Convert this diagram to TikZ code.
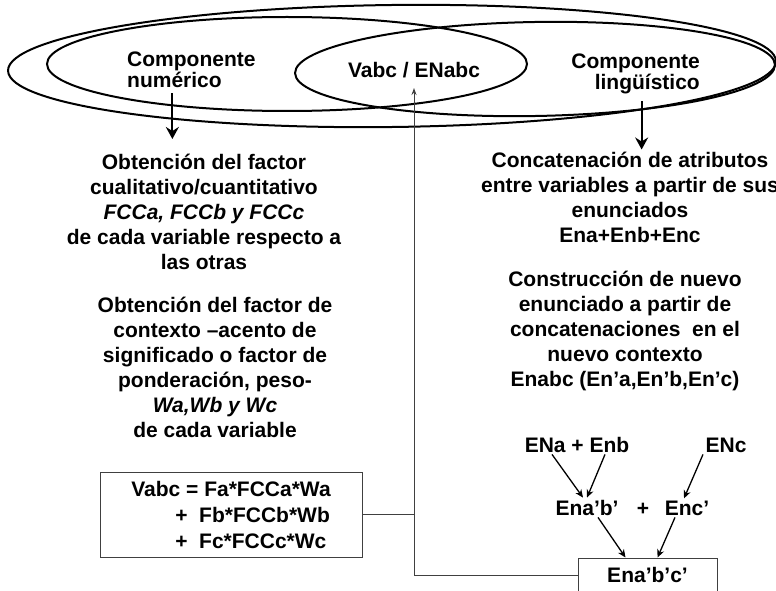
\documentclass[tikz,border=0pt]{standalone}
\usepackage{fontspec}
\setmainfont{Liberation Sans}
\usetikzlibrary{arrows.meta,calc}
\begin{document}
\begin{tikzpicture}[x=1pt,y=-1pt,
  every node/.style={font=\bfseries\fontsize{21}{25}\selectfont, inner sep=2pt},
  txt/.style={align=center},
  ell/.style={line width=2pt},
  bigarrow/.style={line width=2.2pt,-{Stealth[length=12pt,width=13pt,inset=4pt]}},
  smallarrow/.style={line width=1.3pt,-{Stealth[length=8pt,width=7pt]}},
  conn/.style={line width=1pt, draw=black!75},
  boxed/.style={draw=black!75,line width=1pt}]
\useasboundingbox (0,0) rectangle (776,591);
\clip (0,0) rectangle (776,591);
\fill[white] (0,0) rectangle (776,591);
% ellipses
\draw[ell, rotate around={0.7:(392,66)}] (392,66) ellipse [x radius=384pt, y radius=61pt];
\draw[ell] (287,64) ellipse [x radius=240pt, y radius=47pt];
\draw[ell, rotate around={1:(535,69)}] (535,69) ellipse [x radius=240pt, y radius=47pt];
% top labels
\node[align=left, anchor=west, font=\bfseries\fontsize{21}{21}\selectfont] (num) at (125,70) {Componente\\numérico};
\node[align=right, anchor=east, font=\bfseries\fontsize{21}{21}\selectfont] (ling) at (702,74) {Componente\\lingüístico};
\node[inner xsep=2pt, inner ysep=10pt] (lens) at (414,70) {Vabc / ENabc};
% text blocks
\node[txt] (b1) at (204,212) {Obtención del factor\\cualitativo/cuantitativo\\\textit{FCCa, FCCb y FCCc}\\de cada variable respecto a\\las otras};
\node[txt] (b2) at (215,367) {Obtención del factor de\\contexto –acento de\\significado o factor de\\ponderación, peso-\\\textit{Wa,Wb y Wc}\\de cada variable};
\node[txt] (r1) at (630,197) {Concatenación de atributos\\entre variables a partir de sus\\enunciados\\Ena+Enb+Enc};
\node[txt] (r2) at (625,331) {Construcción de nuevo\\enunciado a partir de\\concatenaciones\ \ en el\\nuevo contexto\\Enabc (En’a,En’b,En’c)};
% formula box
\node[boxed, minimum width=262pt, minimum height=85pt, align=left, font=\bfseries\fontsize{21}{26}\selectfont] (f) at (231,514.5) {Vabc = Fa*FCCa*Wa\\\hspace*{44pt}+\ \ Fb*FCCb*Wb\\\hspace*{44pt}+\ \ Fc*FCCc*Wc};
% right bottom
\node[boxed, minimum width=139pt, minimum height=34pt] (e) at (647.5,575) {Ena’b’c’};
\node[anchor=base] (ena) at (577,452) {ENa + Enb};
\node[anchor=base] (enc) at (726,452) {ENc};
\node[anchor=base] (enab) at (587,515) {Ena’b’};
\node[anchor=base] (plus) at (643,515) {+};
\node[anchor=base] (encp) at (687,515) {Enc’};
% arrows
\coordinate (na) at ([xshift=-19pt]num.south);
\draw[bigarrow, shorten <=3pt, shorten >=13pt] (na) -- (na |- b1.north);
\coordinate (la) at ([xshift=6pt]ling.south);
\draw[bigarrow, shorten <=5pt] (la) -- (la |- r1.north);
\draw[smallarrow] ([xshift=-25pt]ena.south) -- ([xshift=-4pt]enab.north);
\draw[smallarrow] ([xshift=28pt]ena.south) -- ([xshift=0pt]enab.north);
\draw[smallarrow] ([xshift=-23pt]enc.south) -- ([xshift=-3pt]encp.north);
\draw[smallarrow] ([xshift=11pt]enab.south) -- ([xshift=-22pt]e.north);
\draw[smallarrow] ([xshift=-12pt]encp.south) -- ([xshift=10pt]e.north);
% connector
\draw[conn,-{Stealth[length=7pt,width=5pt]}] (e.west) -| (lens.south);
\draw[conn] (f.east) -- (f.east -| lens.south);
\end{tikzpicture}
\end{document}
